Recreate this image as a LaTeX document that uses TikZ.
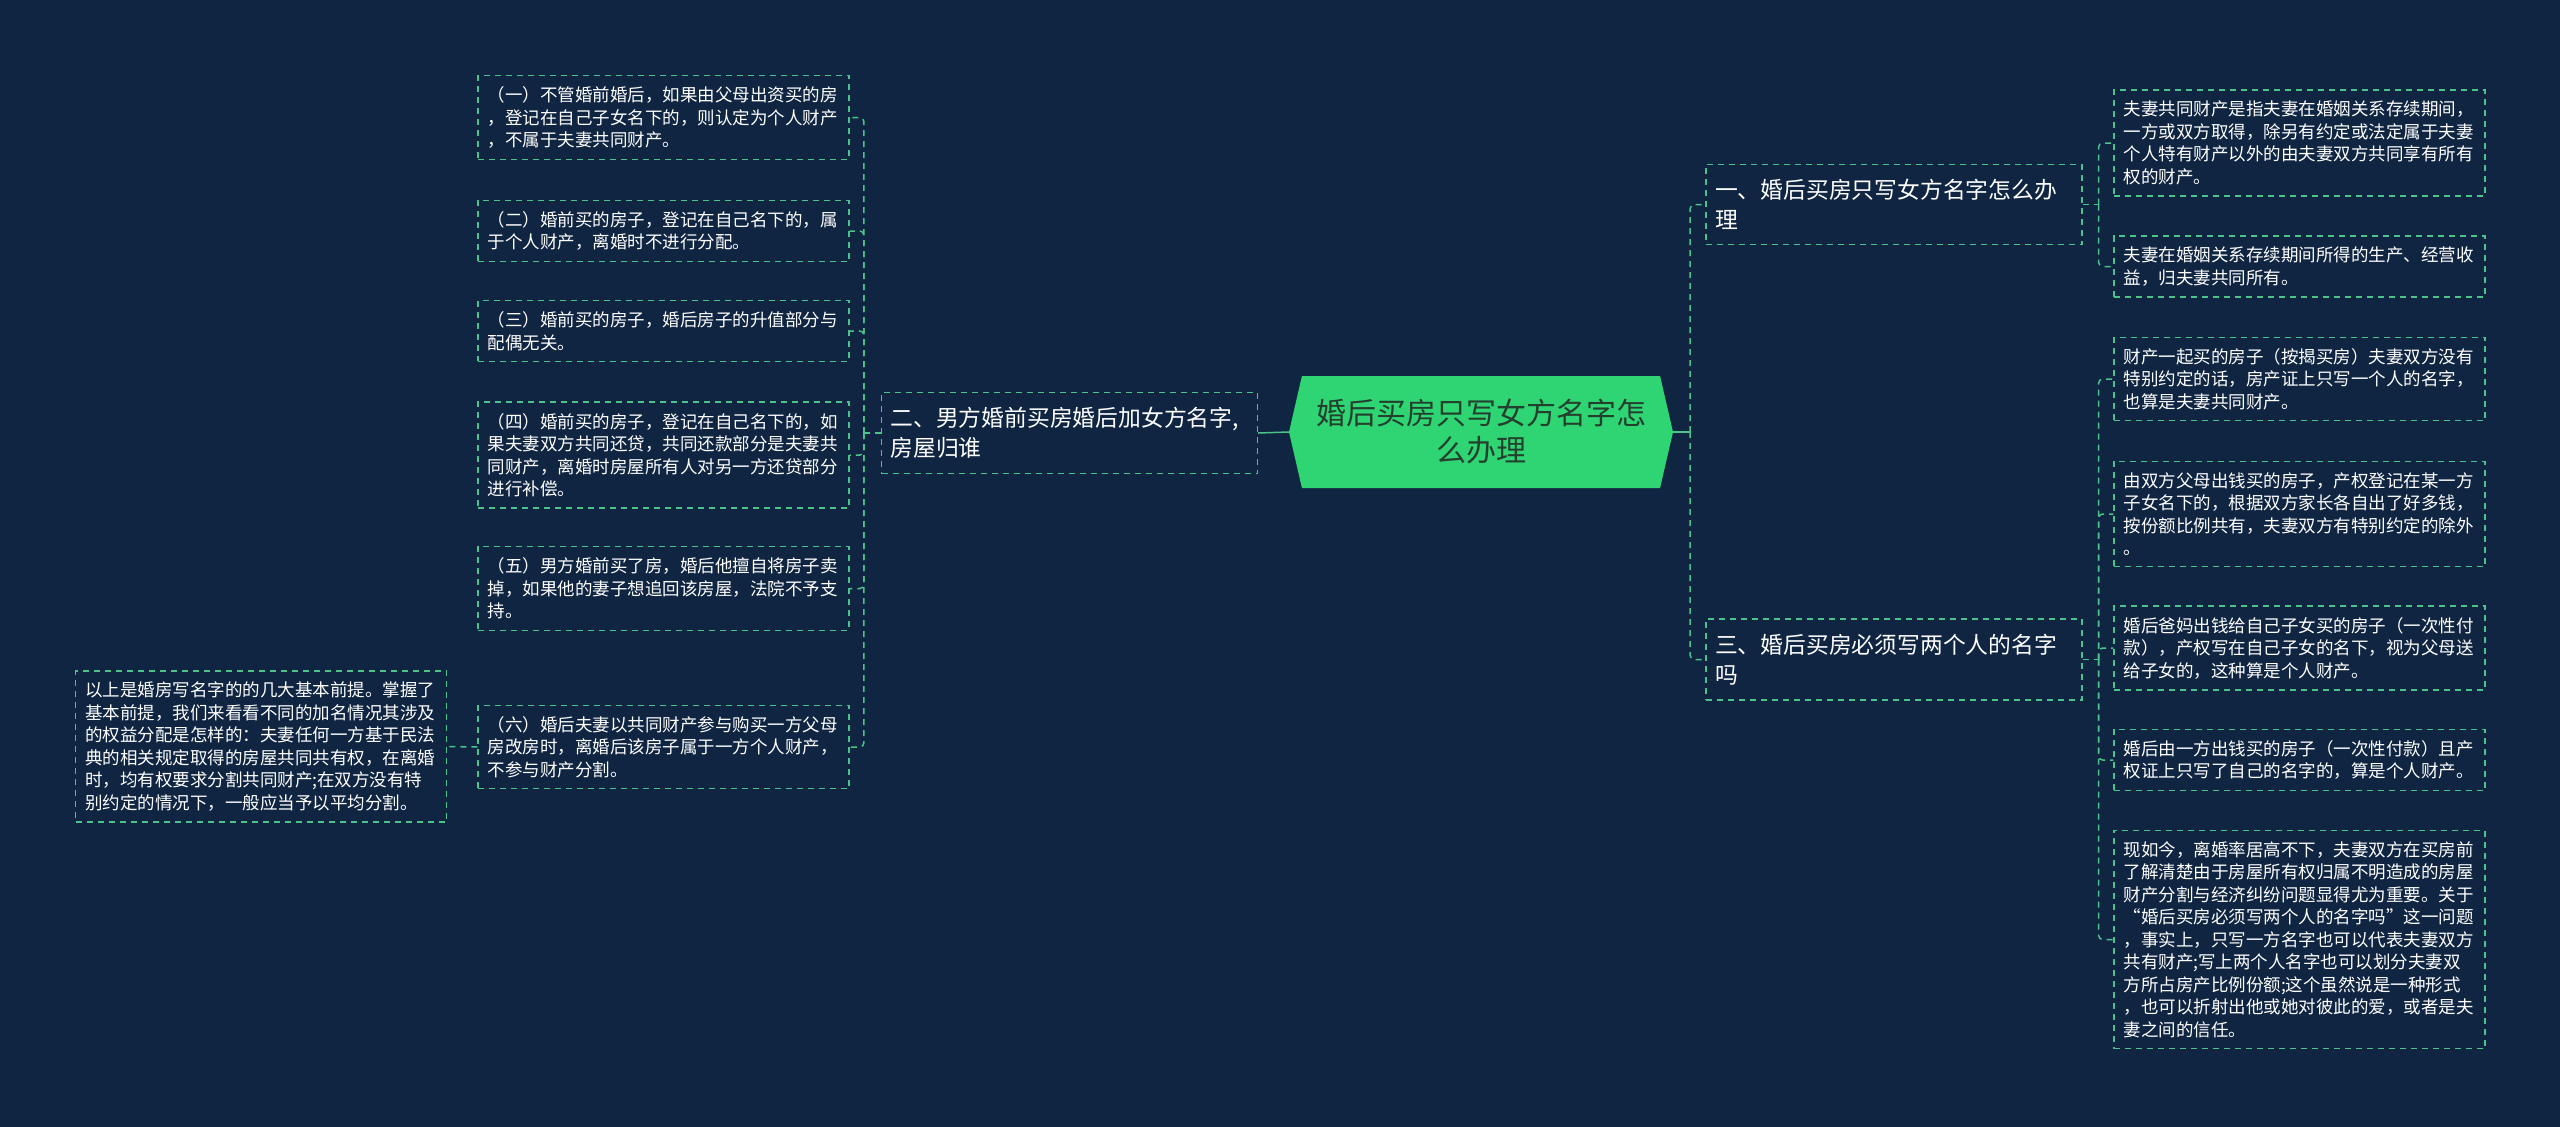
\documentclass[tikz,border=0pt]{standalone}
\usepackage{fontspec}
\setmainfont{Noto Sans CJK SC}
\usetikzlibrary{shapes.symbols}
\definecolor{bgnavy}{HTML}{0F2542}
\definecolor{boxgreen}{HTML}{4CC38A}
\definecolor{rootfill}{HTML}{2FD573}
\definecolor{roottext}{HTML}{23402E}
\newcommand{\leaffont}{\fontsize{17.5}{22.5}\selectfont}
\newcommand{\branchfont}{\fontsize{22.8}{30}\selectfont}
\newcommand{\rootfont}{\fontsize{30}{37}\selectfont}

\begin{document}
\begin{tikzpicture}[x=1pt,y=-1pt,
  rootbox/.style={signal, signal to=west and east, signal pointer angle=154,
    fill=rootfill, text=roottext, minimum width=384pt, minimum height=112pt,
    align=center, font=\rootfont, inner sep=0pt},
  branchbox/.style={draw=boxgreen, line width=1.3pt, dash pattern=on 6pt off 5pt,
    text=white, font=\branchfont, align=left, text width=358pt,
    inner xsep=9pt, inner ysep=15pt},
  leafbox/.style={draw=boxgreen, line width=1.3pt, dash pattern=on 6pt off 5pt,
    text=white, font=\leaffont, align=left, text width=352pt,
    inner xsep=9.5pt, inner ysep=11pt},
  link/.style={draw=boxgreen, line width=1.5pt, dash pattern=on 6pt off 5pt,
    rounded corners=4pt},
  solidlink/.style={draw=boxgreen, line width=1.5pt}]

\fill[bgnavy] (0,0) rectangle (2560,1127);

\node[rootbox] (root) at (1481,432) {婚后买房只写女方名字怎\\么办理};

% left side
\node[branchbox] (b2) at (1069.5,433) {二、男方婚前买房婚后加女方名字,\\房屋归谁};
\node[leafbox] (l1) at (663.5,117.5) {（一）不管婚前婚后，如果由父母出资买的房\\，登记在自己子女名下的，则认定为个人财产\\，不属于夫妻共同财产。};
\node[leafbox] (l2) at (663.5,231) {（二）婚前买的房子，登记在自己名下的，属\\于个人财产，离婚时不进行分配。};
\node[leafbox] (l3) at (663.5,331) {（三）婚前买的房子，婚后房子的升值部分与\\配偶无关。};
\node[leafbox] (l4) at (663.5,455) {（四）婚前买的房子，登记在自己名下的，如\\果夫妻双方共同还贷，共同还款部分是夫妻共\\同财产，离婚时房屋所有人对另一方还贷部分\\进行补偿。};
\node[leafbox] (l5) at (663.5,588.5) {（五）男方婚前买了房，婚后他擅自将房子卖\\掉，如果他的妻子想追回该房屋，法院不予支\\持。};
\node[leafbox] (l6) at (663.5,747) {（六）婚后夫妻以共同财产参与购买一方父母\\房改房时，离婚后该房子属于一方个人财产，\\不参与财产分割。};
\node[leafbox] (far) at (261,746.5) {以上是婚房写名字的的几大基本前提。掌握了\\基本前提，我们来看看不同的加名情况其涉及\\的权益分配是怎样的：夫妻任何一方基于民法\\典的相关规定取得的房屋共同共有权，在离婚\\时，均有权要求分割共同财产;在双方没有特\\别约定的情况下，一般应当予以平均分割。};

% right side
\node[branchbox] (b1) at (1894,204.5) {一、婚后买房只写女方名字怎么办\\理};
\node[branchbox] (b3) at (1894,659.5) {三、婚后买房必须写两个人的名字\\吗};
\node[leafbox] (r1) at (2299.5,143) {夫妻共同财产是指夫妻在婚姻关系存续期间，\\一方或双方取得，除另有约定或法定属于夫妻\\个人特有财产以外的由夫妻双方共同享有所有\\权的财产。};
\node[leafbox] (r2) at (2299.5,266.5) {夫妻在婚姻关系存续期间所得的生产、经营收\\益，归夫妻共同所有。};
\node[leafbox] (r3) at (2299.5,379) {财产一起买的房子（按揭买房）夫妻双方没有\\特别约定的话，房产证上只写一个人的名字，\\也算是夫妻共同财产。};
\node[leafbox] (r4) at (2299.5,514) {由双方父母出钱买的房子，产权登记在某一方\\子女名下的，根据双方家长各自出了好多钱，\\按份额比例共有，夫妻双方有特别约定的除外\\。};
\node[leafbox] (r5) at (2299.5,648) {婚后爸妈出钱给自己子女买的房子（一次性付\\款），产权写在自己子女的名下，视为父母送\\给子女的，这种算是个人财产。};
\node[leafbox] (r6) at (2299.5,760) {婚后由一方出钱买的房子（一次性付款）且产\\权证上只写了自己的名字的，算是个人财产。};
\node[leafbox] (r7) at (2299.5,939.5) {现如今，离婚率居高不下，夫妻双方在买房前\\了解清楚由于房屋所有权归属不明造成的房屋\\财产分割与经济纠纷问题显得尤为重要。关于\\“婚后买房必须写两个人的名字吗”这一问题\\，事实上，只写一方名字也可以代表夫妻双方\\共有财产;写上两个人名字也可以划分夫妻双\\方所占房产比例份额;这个虽然说是一种形式\\，也可以折射出他或她对彼此的爱，或者是夫\\妻之间的信任。};

% connectors
\draw[solidlink] (root.west) -- (b2.east);
\draw[solidlink] (root.east) -- ++(17,0) coordinate (rj);
\path (b2.west) -- ++(-17,0) coordinate (lj);
\path (b1.east) -- ++(16,0) coordinate (j1);
\path (b3.east) -- ++(16,0) coordinate (j3);
\draw[link] (b2.west) -- (lj);
\foreach \leaf in {l1,l2,l3,l4,l5,l6}
  \draw[link] (lj) |- (\leaf.east);
\draw[link] (l6.west) -- (far.east);
\draw[link] (rj) |- (b1.west);
\draw[link] (rj) |- (b3.west);
\draw[link] (b1.east) -- (j1);
\draw[link] (b3.east) -- (j3);
\foreach \leaf in {r1,r2}
  \draw[link] (j1) |- (\leaf.west);
\foreach \leaf in {r3,r4,r5,r6,r7}
  \draw[link] (j3) |- (\leaf.west);
\end{tikzpicture}
\end{document}
